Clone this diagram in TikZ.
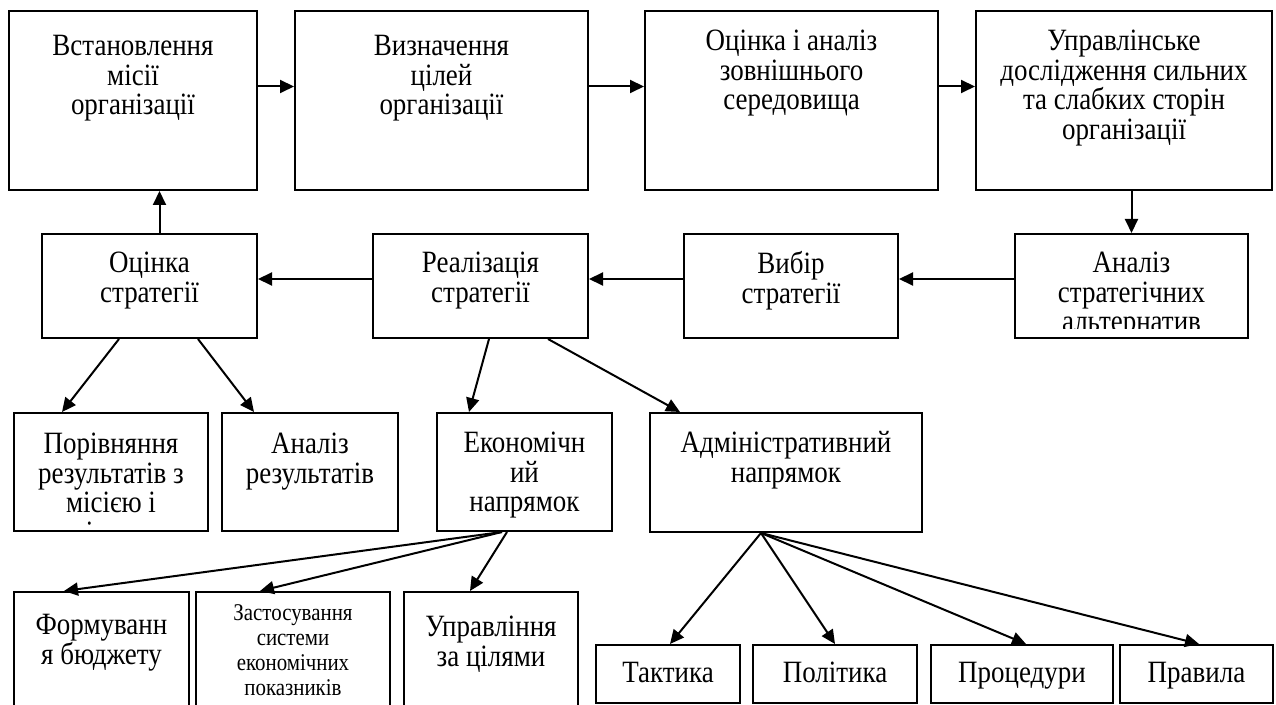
\documentclass[tikz,border=0pt]{standalone}
\usepackage{fontspec}
\setmainfont[FakeStretch=0.87]{Liberation Serif}
\usetikzlibrary{arrows.meta,calc,fit}
\begin{document}
\begin{tikzpicture}[x=0.5pt,y=-0.5pt,
  box/.style={draw, line width=1pt, inner sep=0pt, rectangle},
  txt/.style={inner sep=0pt, anchor=base, font=\fontsize{15.5pt}{14.75pt}\selectfont},
  smalltxt/.style={inner sep=0pt, anchor=base, font=\fontsize{12pt}{12.5pt}\selectfont},
  arr/.style={line width=1pt, -{Triangle[length=7pt,width=6.5pt]}}]
\clip (0,0) rectangle (1276,705);
\fill[white] (0,0) rectangle (1276,705);
% top row
\node[box, fit={(9,11) (257,190)}] (b1) {};
\node[box, fit={(295,11) (588,190)}] (b2) {};
\node[box, fit={(645,11) (938,190)}] (b3) {};
\node[box, fit={(976,11) (1272,190)}] (b4) {};
\node[txt] (b1t) at ($(b1.north)+(0,46)$) {\parbox[t]{200pt}{\centering Встановлення\\місії\\організації}};
\node[txt] (b2t) at ($(b2.north)+(0,46)$) {\parbox[t]{200pt}{\centering Визначення\\цілей\\організації}};
\node[txt] (b3t) at ($(b3.north)+(0,41)$) {\parbox[t]{200pt}{\centering Оцінка і аналіз\\зовнішнього\\середовища}};
\node[txt] (b4t) at ($(b4.north)+(0,41)$) {\parbox[t]{200pt}{\centering Управлінське\\дослідження сильних\\та слабких сторін\\організації}};
% second row
\node[box, fit={(42,234) (257,338)}] (o) {};
\node[box, fit={(373,234) (588,338)}] (r) {};
\node[box, fit={(684,234) (898,338)}] (v) {};
\node[box, fit={(1015,234) (1248,338)}] (a) {};
\node[txt] (ot) at ($(o.north)+(0,40)$) {\parbox[t]{200pt}{\centering Оцінка\\стратегії}};
\node[txt] (rt) at ($(r.north)+(0,40)$) {\parbox[t]{200pt}{\centering Реалізація\\стратегії}};
\node[txt] (vt) at ($(v.north)+(0,41)$) {\parbox[t]{200pt}{\centering Вибір\\стратегії}};
\begin{scope}
\clip (a.north west) rectangle ($(a.south east)+(0,-10)$);
\node[txt] (at) at ($(a.north)+(0,40)$) {\parbox[t]{200pt}{\centering Аналіз\\стратегічних\\альтернатив}};
\end{scope}
% third row
\node[box, fit={(14,413) (208,531)}] (p) {};
\node[box, fit={(222,413) (398,531)}] (ar) {};
\node[box, fit={(437,413) (612,531)}] (e) {};
\node[box, fit={(650,413) (922,532)}] (ad) {};
\begin{scope}
\clip (p.north west) rectangle ($(p.south east)+(0,-7)$);
\node[txt] (pt) at ($(p.north)+(0,42)$) {\parbox[t]{200pt}{\centering Порівняння\\результатів з\\місією і\\цілями}};
\end{scope}
\node[txt] (art) at ($(ar.north)+(0,42)$) {\parbox[t]{200pt}{\centering Аналіз\\результатів}};
\node[txt] (et) at ($(e.north)+(0,41)$) {\parbox[t]{200pt}{\centering Економічн\\ий\\напрямок}};
\node[txt] (adt) at ($(ad.north)+(0,41)$) {\parbox[t]{200pt}{\centering Адміністративний\\напрямок}};
% fourth row
\node[box, fit={(14,592) (189,720)}] (f) {};
\node[box, fit={(196,592) (390,720)}] (z) {};
\node[box, fit={(404,592) (578,720)}] (u) {};
\node[txt] (ft) at ($(f.north)+(0,44)$) {\parbox[t]{200pt}{\centering Формуванн\\я бюджету}};
\node[smalltxt] (zt) at ($(z.north)+(0,30)$) {\parbox[t]{200pt}{\centering Застосування\\системи\\економічних\\показників}};
\node[txt] (ut) at ($(u.north)+(0,46)$) {\parbox[t]{200pt}{\centering Управління\\за цілями}};
% fifth row
\node[box, fit={(596,645) (740,703)}] (t) {};
\node[box, fit={(753,645) (917,703)}] (pol) {};
\node[box, fit={(931,645) (1113,703)}] (pr) {};
\node[box, fit={(1120,645) (1273,703)}] (pv) {};
\node[txt] (tt) at ($(t.north)+(0,39)$) {Тактика};
\node[txt] (polt) at ($(pol.north)+(0,39)$) {Політика};
\node[txt] (prt) at ($(pr.north)+(0,39)$) {Процедури};
\node[txt] (pvt) at ($(pv.north)+(0,39)$) {Правила};
% connectors
\draw[arr] ($(b1.east)+(0,-14)$) -- ($(b2.west)+(0,-14)$);
\draw[arr] ($(b2.east)+(0,-14)$) -- ($(b3.west)+(0,-14)$);
\draw[arr] ($(b3.east)+(0,-14)$) -- ($(b4.west)+(0,-14)$);
\draw[arr] (a.north |- b4.south) -- (a.north);
\draw[arr] ($(a.west)+(0,-7)$) -- ($(v.east)+(0,-7)$);
\draw[arr] ($(v.west)+(0,-7)$) -- ($(r.east)+(0,-7)$);
\draw[arr] ($(r.west)+(0,-7)$) -- ($(o.east)+(0,-7)$);
\path ($(o.north)+(10,0)$) coordinate (oup);
\draw[arr] (oup) -- (oup |- b1.south);
\draw[arr] ($(o.south west)+(78,0)$) -- ($(p.north west)+(49,0)$);
\draw[arr] ($(o.south west)+(157,0)$) -- ($(ar.north west)+(33,0)$);
\draw[arr] ($(r.south west)+(117,0)$) -- ($(e.north west)+(33,0)$);
\draw[arr] ($(r.south west)+(176,0)$) -- ($(ad.north west)+(31,0)$);
\draw[arr] ($(e.south west)+(66,0)$) -- ($(f.north west)+(51,0)$);
\draw[arr] ($(e.south west)+(66,0)$) -- ($(z.north west)+(65,0)$);
\draw[arr] ($(e.south west)+(71,0)$) -- ($(u.north west)+(67,0)$);
\draw[arr] ($(ad.south west)+(112,0)$) -- ($(t.north west)+(75,0)$);
\draw[arr] ($(ad.south west)+(112,0)$) -- ($(pol.north west)+(83,0)$);
\draw[arr] ($(ad.south west)+(112,0)$) -- ($(pr.north west)+(96,0)$);
\draw[arr] ($(ad.south west)+(112,0)$) -- ($(pv.north west)+(80,0)$);
\end{tikzpicture}
\end{document}
